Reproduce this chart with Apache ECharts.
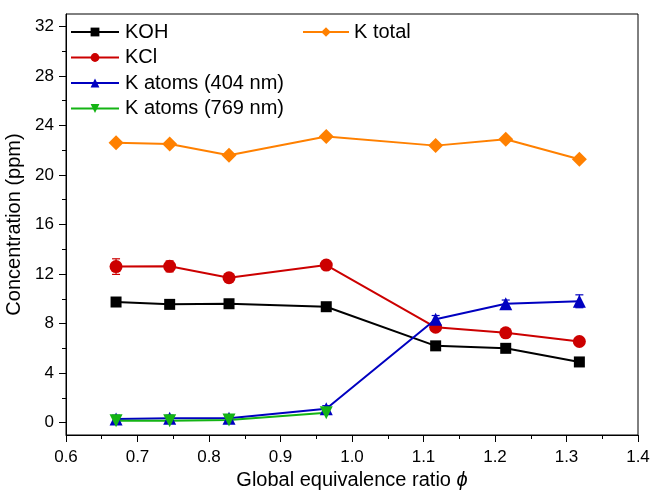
<!DOCTYPE html>
<html>
<head>
<meta charset="utf-8">
<script src="https://cdn.jsdelivr.net/npm/echarts@6/dist/echarts.min.js"></script>
<style>
  html, body { margin: 0; padding: 0; background: #fff; }
  #chart { width: 651px; height: 490px; }
</style>
</head>
<body>
<div id="chart"></div>
<script>
// global equivalence ratio of each flame
const phi = [0.67, 0.745, 0.828, 0.964, 1.117, 1.215, 1.318]
const phiAtoms769 = [0.67, 0.745, 0.828, 0.964]

const kohData = [9.74, 9.55, 9.6, 9.36, 6.2, 6.0, 4.9]
const kclData = [12.6, 12.62, 11.7, 12.72, 7.7, 7.25, 6.55]
const kclErr = [0.63, 0.44, 0.2, 0.2, 0.25, 0.25, 0.3]
const atoms404Data = [0.3, 0.35, 0.35, 1.12, 8.35, 9.6, 9.8]
const atoms404Err = [0.3, 0.25, 0.25, 0.25, 0.3, 0.3, 0.52]
const atoms769Data = [0.15, 0.15, 0.22, 0.8]
const kTotalData = [22.6, 22.5, 21.6, 23.1, 22.37, 22.88, 21.27]

const yMajorTicks = [0, 4, 8, 12, 16, 20, 24, 28, 32]
const yMinorTicks = [2, 6, 10, 14, 18, 22, 26, 30]

const font = 'Liberation Sans, Arial, sans-serif'
const chart = echarts.init(document.getElementById('chart'))

function pairs(xs, ys) {
  return xs.map((x, i) => [x, ys[i]])
}

function errorSeries(xs, ys, errs, color) {
  return {
    type: 'custom',
    silent: true,
    z: 1,
    data: xs.map((x, i) => [x, ys[i] - errs[i], ys[i] + errs[i]]),
    renderItem(params, api) {
      const lo = api.coord([api.value(0), api.value(1)])
      const hi = api.coord([api.value(0), api.value(2)])
      const w = 4
      const style = {stroke: color, lineWidth: 1.2}
      return {
        type: 'group',
        children: [
          {type: 'line', shape: {x1: lo[0], y1: lo[1], x2: hi[0], y2: hi[1]}, style},
          {type: 'line', shape: {x1: lo[0] - w, y1: lo[1], x2: lo[0] + w, y2: lo[1]}, style},
          {type: 'line', shape: {x1: hi[0] - w, y1: hi[1], x2: hi[0] + w, y2: hi[1]}, style},
        ],
      }
    },
  }
}

function lineSeries(name, data, color, symbol, size) {
  return {
    name: name,
    type: 'line',
    data: data,
    symbol: symbol,
    symbolSize: size,
    showAllSymbol: true,
    z: 3,
    itemStyle: {color: color},
    lineStyle: {color: color, width: 2},
    emphasis: {disabled: true},
    animation: false,
  }
}

chart.setOption({
  animation: false,
  grid: {
    left: 66,
    right: 13,
    top: 14,
    bottom: 55,
    containLabel: false,
    outerBoundsMode: 'none',
    show: true,
    borderColor: '#000',
    borderWidth: 1,
    backgroundColor: 'transparent',
  },
  legend: [
    {
      orient: 'vertical',
      left: 70,
      top: 22,
      padding: 0,
      itemWidth: 48,
      itemHeight: 11,
      itemGap: 5.5,
      textStyle: {fontFamily: font, fontSize: 20, color: '#000', padding: [0, 0, 0, 1]},
      data: ['KOH', 'KCl', 'K atoms (404 nm)', 'K atoms (769 nm)'],
    },
    {
      left: 302,
      top: 22,
      padding: 0,
      itemWidth: 46,
      itemHeight: 12,
      textStyle: {fontFamily: font, fontSize: 20, color: '#000'},
      data: ['K total'],
    },
  ],
  xAxis: {
    type: 'value',
    min: 0.6,
    max: 1.4,
    interval: 0.1,
    name: '{a|Global equivalence ratio }{b|ϕ}',
    nameLocation: 'middle',
    nameGap: 34,
    nameTextStyle: {
      rich: {
        a: {fontFamily: font, fontSize: 20, color: '#000'},
        b: {fontFamily: font, fontSize: 20, color: '#000', fontStyle: 'italic'},
      },
    },
    axisLine: {onZero: false, lineStyle: {color: '#000', width: 1}},
    axisTick: {show: true, inside: false, length: 7, lineStyle: {color: '#000'}},
    minorTick: {show: true, splitNumber: 2, length: 4, lineStyle: {color: '#000'}},
    splitLine: {show: false},
    axisLabel: {
      fontFamily: font,
      fontSize: 17,
      color: '#000',
      margin: 14,
      formatter: v => v.toFixed(1),
    },
  },
  yAxis: [
    {
      type: 'value',
      min: -1,
      max: 33,
      name: 'Concentration (ppm)',
      nameLocation: 'middle',
      nameGap: 36,
      nameTextStyle: {fontFamily: font, fontSize: 20, color: '#000'},
      axisLine: {show: true, onZero: false, lineStyle: {color: '#000', width: 1}},
      axisTick: {show: true, length: 7, customValues: yMajorTicks, lineStyle: {color: '#000'}},
      splitLine: {show: false},
      axisLabel: {
        fontFamily: font,
        fontSize: 17,
        color: '#000',
        margin: 12,
        customValues: yMajorTicks,
      },
    },
    {
      type: 'value',
      min: -1,
      max: 33,
      position: 'left',
      axisLine: {show: false},
      axisTick: {show: true, length: 4, customValues: yMinorTicks, lineStyle: {color: '#000'}},
      axisLabel: {show: false},
      splitLine: {show: false},
    },
  ],
  series: [
    errorSeries(phi, kclData, kclErr, '#cc0000'),
    errorSeries(phi, atoms404Data, atoms404Err, '#0000c0'),
    lineSeries('KOH', pairs(phi, kohData), '#000000', 'rect', 11),
    lineSeries('KCl', pairs(phi, kclData), '#cc0000', 'circle', 13),
    lineSeries('K atoms (404 nm)', pairs(phi, atoms404Data), '#0000c0', 'triangle', 13),
    lineSeries('K atoms (769 nm)', pairs(phiAtoms769, atoms769Data), '#14b414', 'path://M0,0 L10,0 L5,10 Z', 13),
    lineSeries('K total', pairs(phi, kTotalData), '#ff8000', 'diamond', 15),
  ],
})
</script>
</body>
</html>
